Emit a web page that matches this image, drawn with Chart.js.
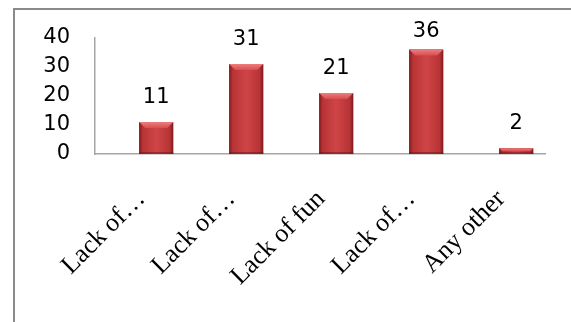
<!DOCTYPE html>
<html>
<head>
<meta charset="utf-8">
<script src="https://cdn.jsdelivr.net/npm/chart.js"></script>
<style>
  html, body { margin: 0; padding: 0; background: #fff; overflow: hidden; }
  #wrap { position: relative; width: 571px; height: 322px; overflow: hidden; }
  #frame { position: absolute; left: 13px; top: 8px; width: 700px; height: 500px;
           border-top: 2px solid #8a8a8a; border-left: 2px solid #8a8a8a; }
  #chart { position: absolute; left: 0; top: 0; }
</style>
</head>
<body>
<div id="wrap">
  <div id="frame"></div>
  <canvas id="chart" width="571" height="322"></canvas>
</div>
<script>
// Reasons given in the survey
var categories = ['Lack of\u2026', 'Lack of\u2026', 'Lack of fun', 'Lack of\u2026', 'Any other'];
var counts = [11, 31, 21, 36, 2];
var yTicks = [0, 10, 20, 30, 40];

// bevelled red columns, drawn over the plain bar fill
var bevelBars = {
  id: 'bevelBars',
  afterDatasetsDraw: function (chart) {
    var ctx = chart.ctx;
    chart.getDatasetMeta(0).data.forEach(function (bar) {
      var p = bar.getProps(['x', 'y', 'base', 'width'], true);
      var l = p.x - p.width / 2, r = p.x + p.width / 2, t = p.y, b = p.base;
      var h = b - t;
      var bv = Math.min(6, h / 2);
      ctx.save();
      var g = ctx.createLinearGradient(l, 0, r, 0);
      g.addColorStop(0, '#7d1a1c');
      g.addColorStop(0.1, '#b73335');
      g.addColorStop(0.5, '#cf4547');
      g.addColorStop(0.9, '#b73335');
      g.addColorStop(1, '#7d1a1c');
      ctx.fillStyle = g;
      ctx.fillRect(l, t, p.width, h);
      // top bevel
      ctx.beginPath();
      ctx.moveTo(l, t);
      ctx.lineTo(r, t);
      ctx.lineTo(r - bv, t + bv);
      ctx.lineTo(l + bv, t + bv);
      ctx.closePath();
      var gt = ctx.createLinearGradient(0, t, 0, t + bv);
      gt.addColorStop(0, '#ee7c7d');
      gt.addColorStop(1, '#d64e50');
      ctx.fillStyle = gt;
      ctx.fill();
      // thin dark bottom edge
      ctx.fillStyle = 'rgba(110,20,22,0.5)';
      ctx.fillRect(l, b - Math.min(2, h / 3), p.width, Math.min(2, h / 3));
      ctx.restore();
    });
  }
};

// value labels above the columns, kept inside the plot area
var valueLabels = {
  id: 'valueLabels',
  afterDatasetsDraw: function (chart) {
    var ctx = chart.ctx;
    var top = chart.chartArea.top;
    ctx.save();
    ctx.font = '21px "DejaVu Sans"';
    ctx.fillStyle = '#000';
    ctx.textAlign = 'center';
    ctx.textBaseline = 'middle';
    chart.getDatasetMeta(0).data.forEach(function (bar, i) {
      var y = Math.max(bar.y - 25, top - 6);
      ctx.fillText(String(counts[i]), bar.x, y);
    });
    ctx.restore();
  }
};

new Chart(document.getElementById('chart'), {
  type: 'bar',
  data: {
    datasets: [{
      data: counts.map(function (v, i) { return { x: i + 1, y: v }; }),
      backgroundColor: '#c0393b',
      borderWidth: 0,
      categoryPercentage: 1,
      barPercentage: 0.378
    }]
  },
  options: {
    responsive: false,
    animation: false,
    layout: { padding: { left: 0, right: 26, top: 38, bottom: 0 } },
    plugins: { legend: { display: false }, tooltip: { enabled: false } },
    scales: {
      x: {
        type: 'linear',
        offset: false,
        min: 0.32,
        max: 5.32,
        afterBuildTicks: function (scale) {
          scale.ticks = categories.map(function (c, i) { return { value: i + 1 }; });
        },
        afterFit: function (scale) { scale.height = 168; },
        grid: { display: false, drawTicks: false },
        border: { color: '#a6a6a6', width: 1.5 },
        ticks: {
          autoSkip: false,
          minRotation: 45,
          maxRotation: 45,
          padding: 30,
          labelOffset: -15,
          color: '#000',
          font: { family: '"Liberation Serif"', size: 26 },
          callback: function (value) { return categories[value - 1]; }
        }
      },
      y: {
        min: 0,
        max: 40,
        afterBuildTicks: function (scale) {
          scale.ticks = yTicks.map(function (v) { return { value: v }; });
        },
        afterFit: function (scale) { scale.width = 95; },
        grid: { display: false, drawTicks: false },
        border: { color: '#a6a6a6', width: 1.5 },
        ticks: {
          padding: 25,
          color: '#000',
          font: { family: '"DejaVu Sans"', size: 21 }
        }
      }
    }
  },
  plugins: [bevelBars, valueLabels]
});
</script>
</body>
</html>
